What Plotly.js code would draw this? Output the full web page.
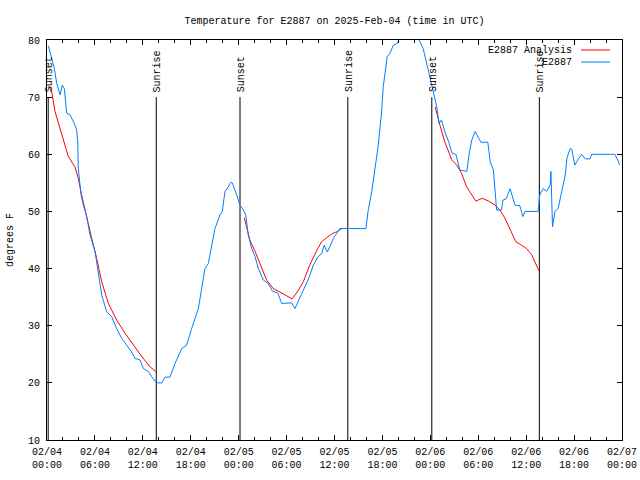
<!DOCTYPE html>
<html>
<head>
<meta charset="utf-8">
<script src="https://cdn.plot.ly/plotly-3.0.1.min.js"></script>
<style>html,body{margin:0;padding:0;background:#fff;}#chart{width:640px;height:480px;}</style>
</head>
<body>
<div id="chart"></div>
<script>
// Observed station temperatures (E2887)
var obsTimes = [
"2025-02-04 00:10","2025-02-04 00:35","2025-02-04 00:55","2025-02-04 01:13","2025-02-04 01:38","2025-02-04 01:55","2025-02-04 02:10","2025-02-04 02:28","2025-02-04 02:53","2025-02-04 03:25","2025-02-04 03:43","2025-02-04 03:51","2025-02-04 03:55","2025-02-04 04:16","2025-02-04 04:33","2025-02-04 04:58","2025-02-04 05:23","2025-02-04 06:01","2025-02-04 06:26","2025-02-04 06:51","2025-02-04 07:28","2025-02-04 08:06","2025-02-04 08:43","2025-02-04 09:21","2025-02-04 09:59","2025-02-04 10:36","2025-02-04 11:01","2025-02-04 11:39","2025-02-04 12:04","2025-02-04 12:41","2025-02-04 13:06","2025-02-04 13:42","2025-02-04 14:22","2025-02-04 14:47","2025-02-04 15:24","2025-02-04 16:02","2025-02-04 16:52","2025-02-04 17:29","2025-02-04 18:07","2025-02-04 18:57","2025-02-04 19:22","2025-02-04 19:47","2025-02-04 20:12","2025-02-04 20:37","2025-02-04 21:02","2025-02-04 21:40","2025-02-04 21:57","2025-02-04 22:17","2025-02-04 22:37","2025-02-04 23:02","2025-02-04 23:12","2025-02-04 23:45",
"2025-02-05 00:10","2025-02-05 00:35","2025-02-05 00:53","2025-02-05 01:12","2025-02-05 01:38","2025-02-05 02:03","2025-02-05 02:28","2025-02-05 03:05","2025-02-05 03:42","2025-02-05 04:12","2025-02-05 04:54","2025-02-05 05:24","2025-02-05 06:38","2025-02-05 07:03","2025-02-05 07:41","2025-02-05 08:06","2025-02-05 08:42","2025-02-05 09:21","2025-02-05 09:58","2025-02-05 10:24","2025-02-05 10:42","2025-02-05 11:06","2025-02-05 11:36","2025-02-05 11:51","2025-02-05 12:18","2025-02-05 12:41","2025-02-05 15:56","2025-02-05 16:12","2025-02-05 16:40","2025-02-05 17:04","2025-02-05 17:29","2025-02-05 17:54","2025-02-05 18:06","2025-02-05 18:18","2025-02-05 18:36","2025-02-05 18:57","2025-02-05 19:22","2025-02-05 19:52","2025-02-05 20:30","2025-02-05 21:24","2025-02-05 22:18","2025-02-05 22:36","2025-02-05 23:06","2025-02-05 23:30","2025-02-05 23:58",
"2025-02-06 00:22","2025-02-06 00:48","2025-02-06 01:06","2025-02-06 01:24","2025-02-06 01:48","2025-02-06 02:18","2025-02-06 02:42","2025-02-06 03:12","2025-02-06 03:42","2025-02-06 04:34","2025-02-06 04:54","2025-02-06 05:12","2025-02-06 05:36","2025-02-06 06:20","2025-02-06 07:12","2025-02-06 07:30","2025-02-06 07:54","2025-02-06 08:06","2025-02-06 08:18","2025-02-06 08:54","2025-02-06 09:06","2025-02-06 09:30","2025-02-06 09:59","2025-02-06 10:36","2025-02-06 11:12","2025-02-06 11:36","2025-02-06 11:51","2025-02-06 13:30","2025-02-06 13:42","2025-02-06 14:09","2025-02-06 14:34","2025-02-06 15:00","2025-02-06 15:06","2025-02-06 15:18","2025-02-06 15:36","2025-02-06 16:00","2025-02-06 16:27","2025-02-06 16:54","2025-02-06 17:06","2025-02-06 17:30","2025-02-06 17:42","2025-02-06 18:06","2025-02-06 18:27","2025-02-06 18:57","2025-02-06 19:24","2025-02-06 20:00","2025-02-06 20:12","2025-02-06 23:06","2025-02-06 23:28","2025-02-06 23:42"
];
var obsTemps = [
79,76.5,75,72.4,70.4,72.1,71.5,67.2,66.9,65.4,64.2,62.2,57.5,52.9,51.1,49.1,45.9,42.95,39.45,35.4,32.45,31.6,29.5,27.8,26.6,25.4,24.3,24,22.5,22,21.1,20,20,21,21,23.4,26,26.6,29.5,33,36.5,40,40.9,44.1,47,49.4,50,53.5,54.1,55.1,55,52.9,
51.1,50.25,49.4,45.9,43.5,42.1,40,38,37.4,36.1,35.7,33.9,34,33,34.8,36.25,38,40.6,42.1,42.6,44.1,42.9,44.4,45.3,46.2,47,47,50,53.5,57.5,61.6,67.5,71.8,73.9,77.1,77.7,79.1,79.4,81.5,82.5,81,80,78.5,76.2,73.3,
70.4,68.3,65.4,66,64,62.2,60.2,60,57.25,57,60.45,62.5,64,62.1,62.1,58.7,57.25,53.5,50.25,50.25,52,52.2,54,51.1,51,49.1,50,50,52.9,54,53.5,54.6,57,47.3,50,50.5,53.5,56.4,59.3,61,60.9,58.1,59,60,59.2,59.2,60,60,59,58.1
];

// Analysis temperatures (E2887 Analysis), night-time segments separated by gaps
var anaTimes = [
"2025-02-04 00:10","2025-02-04 00:35","2025-02-04 01:00","2025-02-04 01:38","2025-02-04 02:02","2025-02-04 02:40","2025-02-04 03:30","2025-02-04 03:55","2025-02-04 04:20","2025-02-04 04:58","2025-02-04 05:36","2025-02-04 06:13","2025-02-04 06:51","2025-02-04 07:41","2025-02-04 08:43","2025-02-04 09:46","2025-02-04 10:48","2025-02-04 11:52","2025-02-04 12:54","2025-02-04 13:36",
"2025-02-04 19:00",
"2025-02-05 00:42","2025-02-05 01:00","2025-02-05 01:24","2025-02-05 02:03","2025-02-05 02:42","2025-02-05 03:30","2025-02-05 04:18","2025-02-05 05:24","2025-02-05 06:42","2025-02-05 07:30","2025-02-05 08:06","2025-02-05 08:54","2025-02-05 09:48","2025-02-05 10:24","2025-02-05 11:00","2025-02-05 11:51","2025-02-05 12:18","2025-02-05 12:54",
"2025-02-05 19:00",
"2025-02-06 00:36","2025-02-06 00:54","2025-02-06 01:12","2025-02-06 01:48","2025-02-06 02:15","2025-02-06 02:42","2025-02-06 03:18","2025-02-06 03:54","2025-02-06 04:33","2025-02-06 05:12","2025-02-06 05:42","2025-02-06 06:30","2025-02-06 07:18","2025-02-06 08:06","2025-02-06 08:42","2025-02-06 09:21","2025-02-06 09:59","2025-02-06 10:42","2025-02-06 11:24","2025-02-06 12:03","2025-02-06 12:42","2025-02-06 13:06","2025-02-06 13:36"
];
var anaTemps = [
72,71,67.5,64.5,62.2,59.6,57.8,55.8,52.9,48.8,45.3,41.8,37.7,33.9,31,28.7,26.6,24.6,22.8,22,
null,
48.9,47,45,43,40.6,38,36.55,35.7,34.7,36.25,37.7,40.6,43.25,44.7,45.4,46.2,46.45,47,
null,
68.3,66.9,65.1,62.2,60.75,59,58.1,56.7,54.3,52.9,51.8,52.3,51.8,51.1,50.25,48.8,46.75,44.7,44.1,43.5,42.4,41.2,39.6
];

// Sun events
var sunTimes = ["2025-02-04 00:09","2025-02-04 13:41","2025-02-05 00:10","2025-02-05 13:40","2025-02-06 00:11","2025-02-06 13:39"];
var sunLabels = ["Sunset","Sunrise","Sunset","Sunrise","Sunset","Sunrise"];

var seriesNames = ["E2887 Analysis","E2887"];
var seriesColors = ["#ff0000","#0080ff"];

var FONT = "Liberation Mono, DejaVu Sans Mono, monospace";

var traces = [
  {x: anaTimes, y: anaTemps, type: "scatter", mode: "lines", name: seriesNames[0],
   line: {color: seriesColors[0], width: 1}, connectgaps: false, showlegend: false},
  {x: obsTimes, y: obsTemps, type: "scatter", mode: "lines", name: seriesNames[1],
   line: {color: seriesColors[1], width: 1}, showlegend: false}
];

var shapes = [];
var annotations = [];
sunTimes.forEach(function(t, i){
  shapes.push({type: "line", xref: "x", yref: "y", x0: t, x1: t, y0: 10, y1: 70,
    line: {color: "#000", width: 1}, layer: "below"});
  annotations.push({x: t, y: 70, xref: "x", yref: "y", text: sunLabels[i], showarrow: false,
    textangle: -90, xanchor: "center", yanchor: "bottom", yshift: 3, xshift: 1,
    font: {family: FONT, size: 10, color: "#000"}});
});

// gnuplot-style key: text then line sample
var keyY = [0.975, 0.945];
seriesNames.forEach(function(n, i){
  annotations.push({x: 0.9165, y: keyY[i], xref: "paper", yref: "paper", text: n, showarrow: false,
    xanchor: "right", yanchor: "middle", font: {family: FONT, size: 10, color: "#000"}});
  shapes.push({type: "line", xref: "paper", yref: "paper", x0: 0.9287, x1: 0.979, y0: keyY[i], y1: keyY[i],
    line: {color: seriesColors[i], width: 1}});
});

var layout = {
  width: 640, height: 480,
  margin: {l: 47, r: 18, t: 40, b: 40, pad: 0},
  paper_bgcolor: "#fff", plot_bgcolor: "#fff",
  font: {family: FONT, size: 10, color: "#000"},
  title: {text: "Temperature for E2887 on 2025-Feb-04 (time in UTC)", x: 0.5, xref: "paper",
    y: 0.958, yref: "container", yanchor: "middle", font: {family: FONT, size: 10, color: "#000"}},
  xaxis: {type: "date", range: ["2025-02-04 00:00", "2025-02-07 00:00"],
    tick0: "2025-02-04 00:00", dtick: 21600000, tickformat: "%m/%d<br>%H:%M",
    ticks: "inside", ticklen: 5, tickcolor: "#000", tickwidth: 1, ticklabelstandoff: 2,
    minor: {dtick: 7200000, ticks: "inside", ticklen: 3, tickcolor: "#000", showgrid: false},
    showline: true, linecolor: "#000", linewidth: 1, mirror: "allticks",
    showgrid: false, zeroline: false, fixedrange: true,
    tickfont: {family: FONT, size: 10, color: "#000"}},
  yaxis: {range: [10, 80], dtick: 10, tick0: 10,
    ticks: "inside", ticklen: 5, tickcolor: "#000", tickwidth: 1, ticklabelstandoff: 4,
    showline: true, linecolor: "#000", linewidth: 1, mirror: "allticks",
    showgrid: false, zeroline: false, fixedrange: true,
    title: {text: "degrees F", standoff: 12, font: {family: FONT, size: 10, color: "#000"}},
    tickfont: {family: FONT, size: 10, color: "#000"}},
  shapes: shapes,
  annotations: annotations,
  showlegend: false
};

Plotly.newPlot("chart", traces, layout, {displayModeBar: false, staticPlot: true});
</script>
</body>
</html>
